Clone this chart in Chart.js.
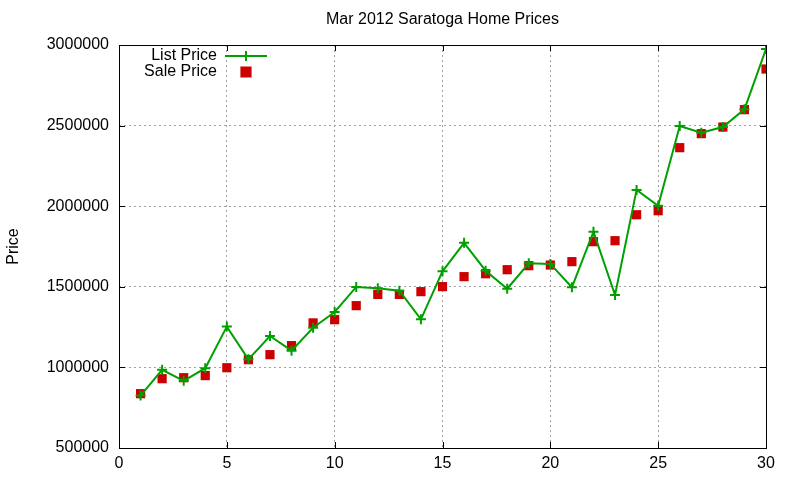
<!DOCTYPE html>
<html>
<head>
<meta charset="utf-8">
<script src="https://cdn.jsdelivr.net/npm/chart.js@4/dist/chart.umd.min.js"></script>
<style>
  html, body { margin: 0; padding: 0; background: #fff; }
  #wrap { width: 800px; height: 480px; }
</style>
</head>
<body>
<div id="wrap"><canvas id="myChart" width="800" height="480"></canvas></div>
<script>
const days = [1,2,3,4,5,6,7,8,9,10,11,12,13,14,15,16,17,18,19,20,21,22,23,24,25,26,27,28,29,30]
const listPrice = [825000,985000,917000,995000,1253000,1050000,1195000,1104000,1246000,1344000,
    1499000,1491000,1476000,1298000,1596000,1773000,1600000,1488000,1646000,1642000,
    1497000,1842000,1449000,2101000,2003000,2498000,2456000,2491000,2601000,2975000]
const salePrice = [837000,930000,936000,949000,998000,1048000,1079000,1135000,1276000,1296000,
    1383000,1453000,1453000,1470000,1501000,1563000,1581000,1606000,1631000,1635000,
    1656000,1780000,1786000,1947000,1972000,2363000,2450000,2491000,2599000,2851000]
const xTicks = [0, 5, 10, 15, 20, 25, 30]
const yTicks = [500000, 1000000, 1500000, 2000000, 2500000, 3000000]
const titleText = 'Mar 2012 Saratoga Home Prices'

const FONT = "'Liberation Sans', Arial, sans-serif"
const GREEN = '#00a000'
const RED = '#cc0000'

function toPoints(vals) {
    return days.map(function (d, i) { return { x: d, y: vals[i] } })
}

// box round the plot + little inward tick marks, like gnuplot
const frame = {
    id: 'frame',
    afterDatasetsDraw(chart) {
        const a = chart.chartArea, ctx = chart.ctx
        const sx = chart.scales.x, sy = chart.scales.y
        ctx.save()
        ctx.strokeStyle = '#000'
        ctx.lineWidth = 1
        ctx.strokeRect(a.left + 0.5, a.top + 0.5, a.right - a.left, a.bottom - a.top)
        ctx.beginPath()
        xTicks.forEach(function (t) {
            const px = Math.round(sx.getPixelForValue(t)) + 0.5
            ctx.moveTo(px, a.bottom); ctx.lineTo(px, a.bottom - 6)
            ctx.moveTo(px, a.top); ctx.lineTo(px, a.top + 6)
        })
        yTicks.forEach(function (t) {
            const py = Math.round(sy.getPixelForValue(t)) + 0.5
            ctx.moveTo(a.left, py); ctx.lineTo(a.left + 6, py)
            ctx.moveTo(a.right, py); ctx.lineTo(a.right - 6, py)
        })
        ctx.stroke()
        ctx.restore()
    }
}

// title centred over the plot area, not the canvas
const plotTitle = {
    id: 'plotTitle',
    afterDraw(chart) {
        const a = chart.chartArea, ctx = chart.ctx
        ctx.save()
        ctx.font = '16px ' + FONT
        ctx.fillStyle = '#000'
        ctx.textAlign = 'center'
        ctx.textBaseline = 'middle'
        ctx.fillText(titleText, (a.left + a.right) / 2, 20)
        ctx.restore()
    }
}

// gnuplot style key: text right aligned, sample on the right
const key = {
    id: 'key',
    afterDraw(chart) {
        const ctx = chart.ctx
        ctx.save()
        ctx.font = '16px ' + FONT
        ctx.textAlign = 'right'
        ctx.textBaseline = 'middle'
        ctx.fillStyle = '#000'
        chart.data.datasets.forEach(function (ds, i) {
            const y = 56 + i * 16
            ctx.fillText(ds.label, 217, y)
            if (ds.showLine !== false) {
                ctx.strokeStyle = ds.borderColor
                ctx.lineWidth = ds.borderWidth
                ctx.beginPath()
                ctx.moveTo(225, y); ctx.lineTo(267, y)
                ctx.stroke()
            }
            Chart.helpers.drawPoint(ctx, {
                pointStyle: ds.pointStyle,
                radius: ds.pointRadius,
                borderWidth: ds.pointBorderWidth || ds.borderWidth
            }, 246, y)
            ctx.fillStyle = ds.pointBackgroundColor
            ctx.strokeStyle = ds.pointBorderColor
            ctx.fill(); ctx.stroke()
            ctx.fillStyle = '#000'
        })
        ctx.restore()
    }
}

const ctx = document.getElementById('myChart').getContext('2d')
const chart = new Chart(ctx, {
    type: 'line',
    data: {
        datasets: [{
            label: 'List Price',
            data: toPoints(listPrice),
            borderColor: GREEN,
            backgroundColor: GREEN,
            borderWidth: 2,
            pointStyle: 'cross',
            pointRadius: 5,
            pointBorderWidth: 2,
            pointBorderColor: GREEN,
            pointBackgroundColor: GREEN,
            tension: 0
        }, {
            label: 'Sale Price',
            data: toPoints(salePrice),
            showLine: false,
            borderColor: RED,
            backgroundColor: RED,
            borderWidth: 0,
            pointStyle: 'rect',
            pointRadius: 6.5,
            pointBorderWidth: 0,
            pointBorderColor: RED,
            pointBackgroundColor: RED
        }]
    },
    options: {
        responsive: false,
        animation: false,
        layout: { padding: { left: 0, right: 34, top: 45, bottom: 0 } },
        plugins: {
            legend: { display: false },
            tooltip: { enabled: false },
            title: { display: false }
        },
        scales: {
            x: {
                type: 'linear',
                min: 0, max: 30,
                afterBuildTicks(scale) { scale.ticks = xTicks.map(function (v) { return { value: v } }) },
                afterFit(scale) { scale.height = 32 },
                grid: { color: '#a0a0a0', drawTicks: false },
                border: { display: false, dash: [2, 3] },
                ticks: { color: '#000', padding: 6, font: { family: FONT, size: 16 } }
            },
            y: {
                min: 500000, max: 3000000,
                afterBuildTicks(scale) { scale.ticks = yTicks.map(function (v) { return { value: v } }) },
                afterFit(scale) { scale.width = 119 },
                grid: { color: '#a0a0a0', drawTicks: false },
                border: { display: false, dash: [2, 3] },
                title: {
                    display: true,
                    text: 'Price',
                    color: '#000',
                    font: { family: FONT, size: 16 },
                    padding: { top: 4, bottom: 8 }
                },
                ticks: {
                    color: '#000', padding: 10,
                    font: { family: FONT, size: 16 },
                    callback: function (v) { return String(v) }
                }
            }
        }
    },
    plugins: [frame, plotTitle, key]
})
</script>
</body>
</html>
